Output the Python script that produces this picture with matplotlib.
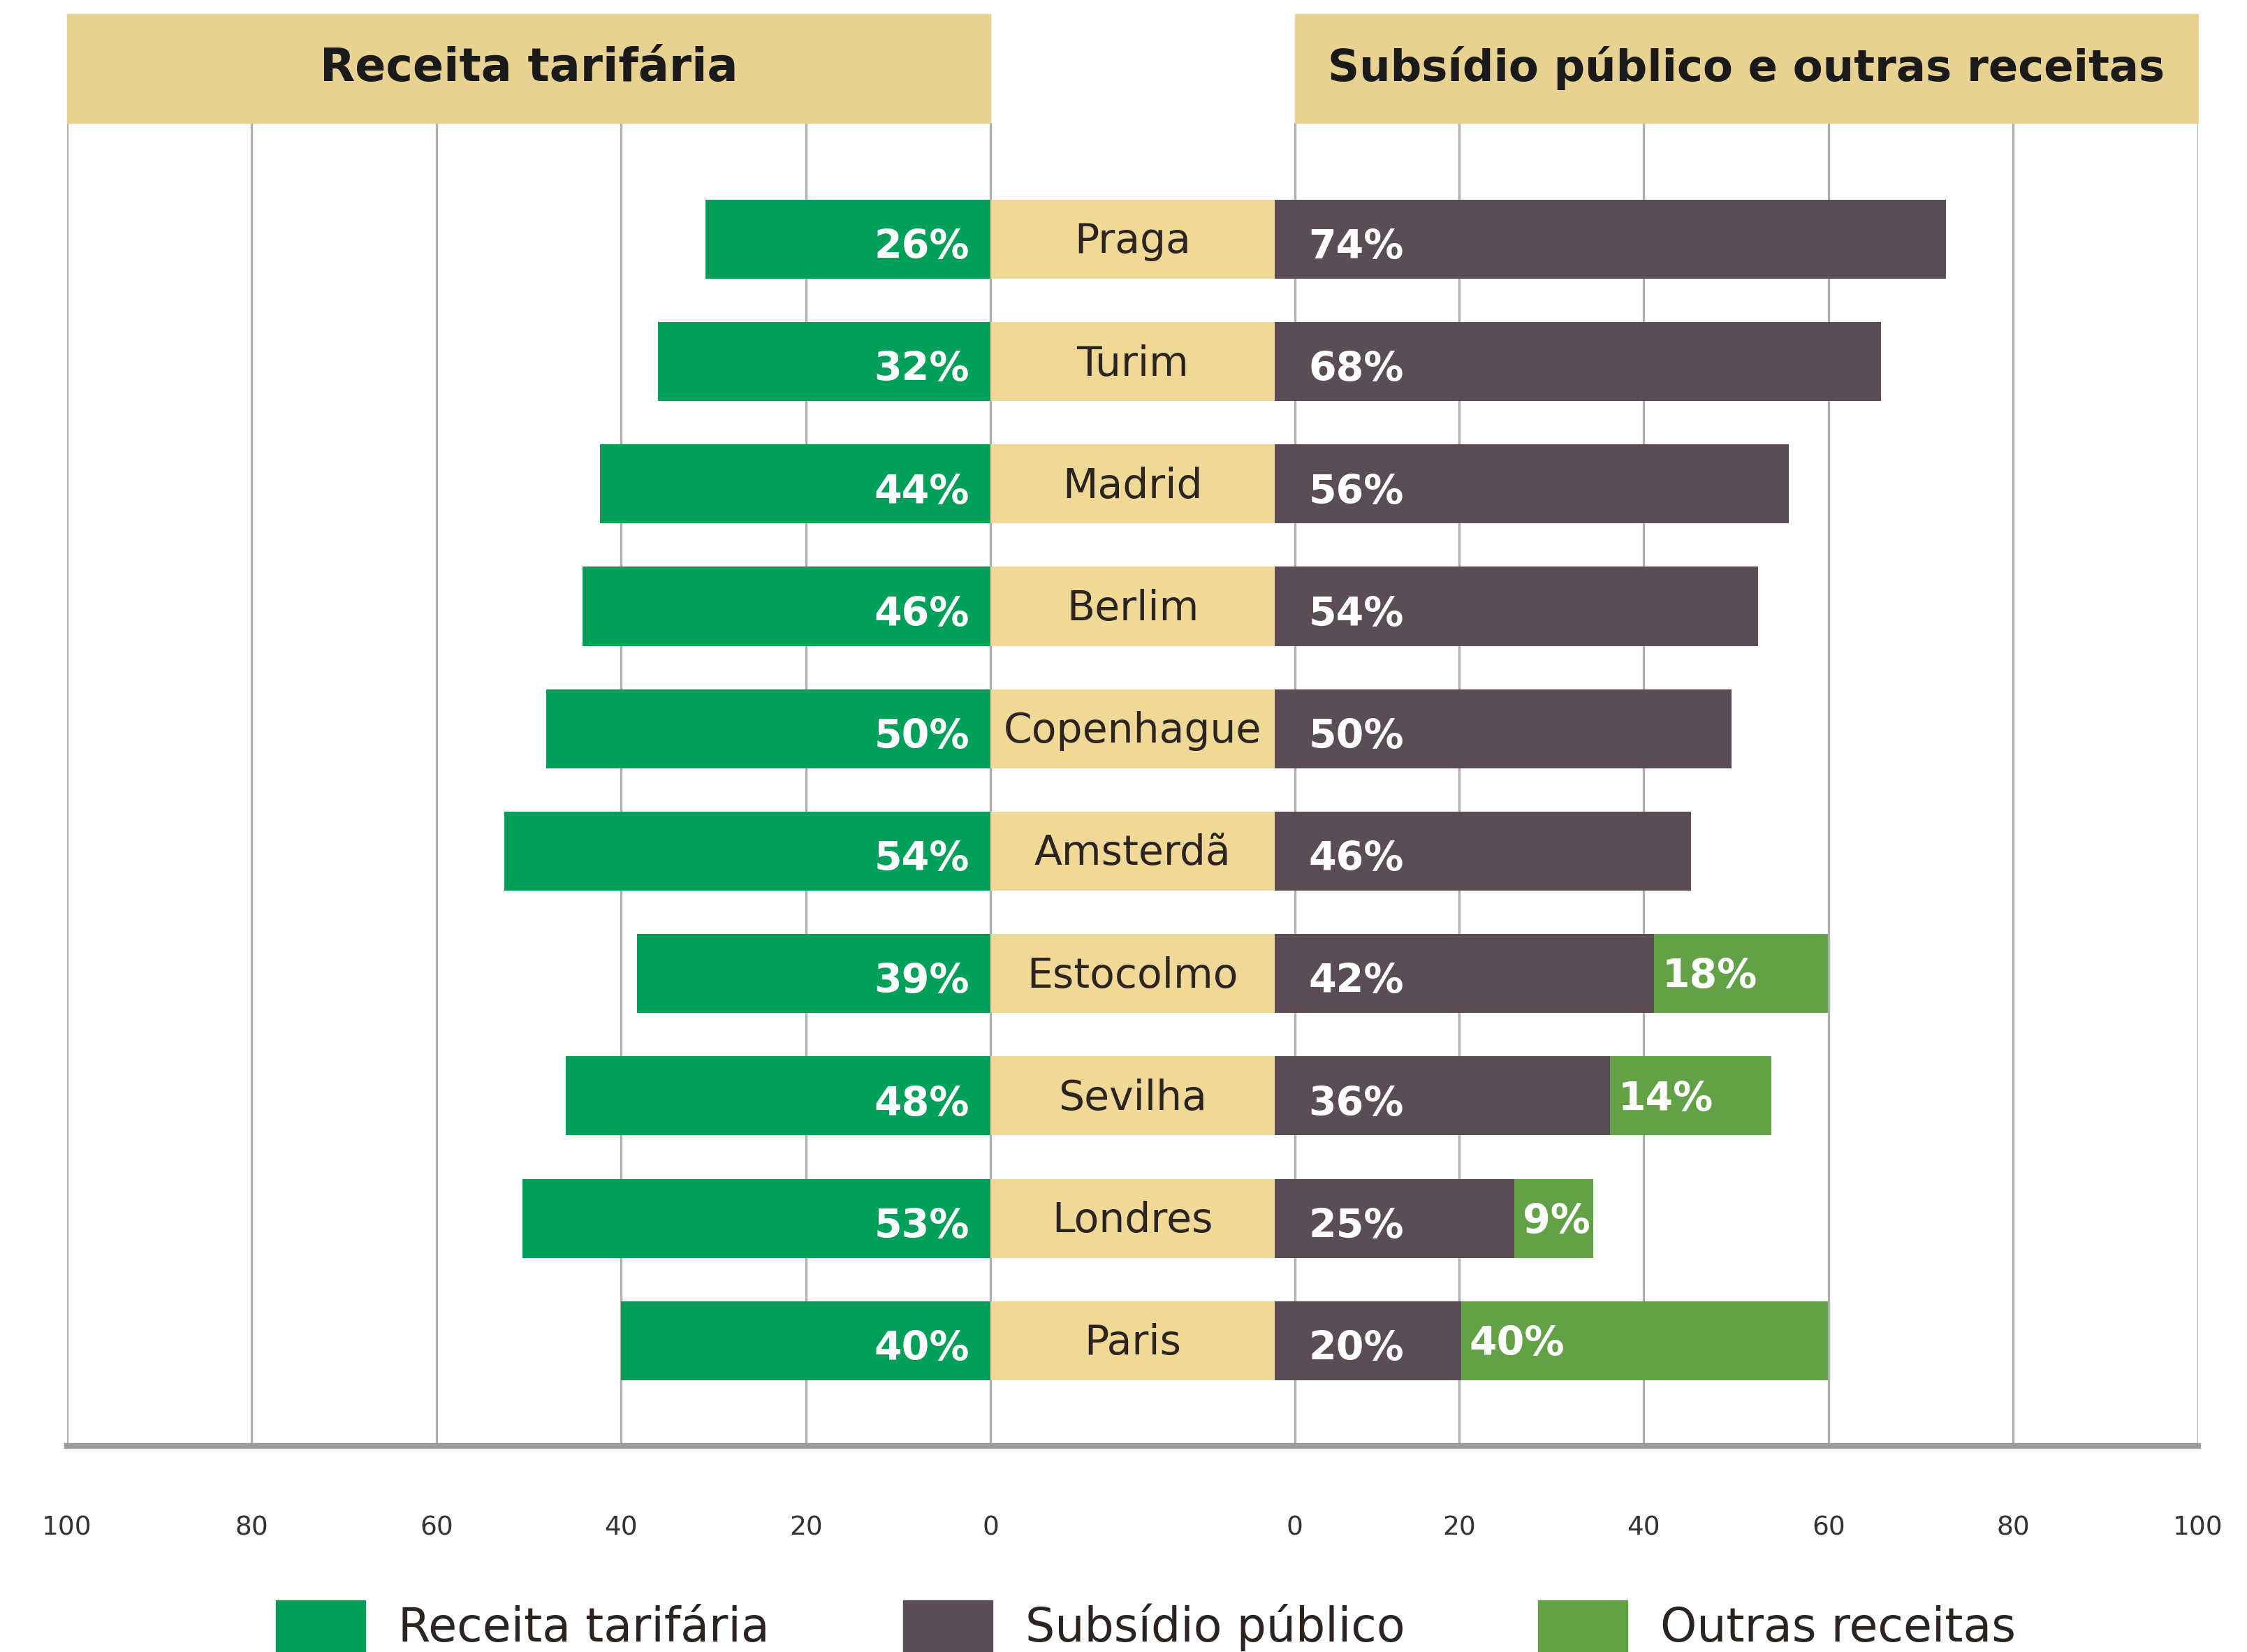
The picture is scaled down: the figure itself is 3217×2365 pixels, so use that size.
import numpy as np
import matplotlib
matplotlib.use("Agg")
import matplotlib.pyplot as plt
from matplotlib.patches import Patch, Rectangle
import matplotlib.transforms as mtransforms

# data
cities = ['Praga', 'Turim', 'Madrid', 'Berlim', 'Copenhague',
          'Amsterdã', 'Estocolmo', 'Sevilha', 'Londres', 'Paris']
receita_bar = [30.9, 36.0, 42.3, 44.2, 48.1, 52.7, 38.3, 46.0, 50.7, 40.0]
receita_lbl = [26, 32, 44, 46, 50, 54, 39, 48, 53, 40]
subsidio_bar = [72.7, 65.7, 55.7, 52.4, 49.5, 45.1, 41.1, 36.3, 26.0, 20.2]
subsidio_lbl = [74, 68, 56, 54, 50, 46, 42, 36, 25, 20]
outras_bar = [0, 0, 0, 0, 0, 0, 18.8, 17.5, 8.5, 39.7]
outras_lbl = [None, None, None, None, None, None, 18, 14, 9, 40]
tick_vals = [100, 80, 60, 40, 20, 0]

# colours
c_receita = '#00a05a'
c_subsidio = '#5b4d55'
c_outras = '#63a146'
c_header = '#e8d292'
c_band = '#f0d896'
c_grid = '#b0b0b0'

BAND = 30.7     # width of the centre city band, in axis units
R0_SHIFT = 2.2  # right "0" line sits a little right of the band edge

fig = plt.figure(figsize=(32.17, 23.65), dpi=100)
ax = fig.add_axes([0.02984, 0.12474, 0.94840, 0.80085])

y = np.arange(len(cities))
h = 0.646

# bars
ax.barh(y, [-v for v in receita_bar], left=0, height=h, color=c_receita, zorder=3)
ax.barh(y, BAND, left=0, height=h, color=c_band, zorder=3)
ax.barh(y, subsidio_bar, left=BAND, height=h, color=c_subsidio, zorder=3)
ax.barh(y, outras_bar, left=[BAND + s for s in subsidio_bar], height=h,
        color=c_outras, zorder=3)

# labels
for i in range(len(cities)):
    ax.text(-2.3, i + 0.07, f'{receita_lbl[i]}%', ha='right', va='center',
            color='white', fontsize=41, fontweight='bold', zorder=4)
    ax.text(BAND / 2, i + 0.02, cities[i], ha='center', va='center',
            color='#2b2420', fontsize=42, zorder=4)
    ax.text(BAND + 3.7, i + 0.07, f'{subsidio_lbl[i]}%', ha='left', va='center',
            color='white', fontsize=41, fontweight='bold', zorder=4)
    if outras_lbl[i] is not None:
        ax.text(BAND + subsidio_bar[i] + 0.9, i + 0.03, f'{outras_lbl[i]}%', ha='left',
                va='center', color='white', fontsize=41, fontweight='bold', zorder=4)

ax.set_xlim(-100, BAND + 100)
ax.set_ylim(len(cities) - 1 + 0.86, -0.95)

# axis ticks and grid
left_pos = [-v for v in tick_vals]
right_pos = [BAND + R0_SHIFT] + [BAND + v for v in tick_vals[::-1][1:]]
ax.set_xticks(left_pos + right_pos)
ax.set_xticklabels([str(v) for v in tick_vals] + [str(v) for v in tick_vals[::-1]])
ax.tick_params(axis='x', length=0, pad=72, labelsize=27, labelcolor='#333333')
ax.tick_params(axis='y', left=False, labelleft=False)
ax.grid(axis='x', color=c_grid, linewidth=2.4, zorder=0)
ax.set_axisbelow(True)
for s in ['left', 'right', 'top']:
    ax.spines[s].set_visible(False)
ax.spines['bottom'].set_color('#9c9c9c')
ax.spines['bottom'].set_linewidth(6)

# header boxes above the plot
trans = mtransforms.blended_transform_factory(ax.transData, ax.transAxes)
hh = 0.0824
ax.add_patch(Rectangle((-100, 1.0), 100, hh, transform=trans, color=c_header,
                       clip_on=False, zorder=2))
ax.add_patch(Rectangle((BAND + R0_SHIFT, 1.0), 100 - R0_SHIFT, hh, transform=trans,
                       color=c_header, clip_on=False, zorder=2))
ax.text(-50, 1.0 + hh / 2, 'Receita tarifária', transform=trans, ha='center',
        va='center', fontsize=47, fontweight='bold', color='#1a1a1a')
ax.text(BAND + (100 + R0_SHIFT) / 2, 1.0 + hh / 2, 'Subsídio público e outras receitas',
        transform=trans, ha='center', va='center', fontsize=45, fontweight='bold',
        color='#1a1a1a')

# legend
handles = [Patch(color=c_receita, label='Receita tarifária'),
           Patch(color=c_subsidio, label='Subsídio público'),
           Patch(color=c_outras, label='Outras receitas')]
fig.legend(handles=handles, loc='center', bbox_to_anchor=(0.51, 1 - 2328 / 2365),
           ncol=3, frameon=False, fontsize=48, handlelength=1.92, handleheight=1.35,
           handletextpad=0.71, columnspacing=2.86, labelcolor='#2b2420')

fig.savefig('out.png', dpi=100)
